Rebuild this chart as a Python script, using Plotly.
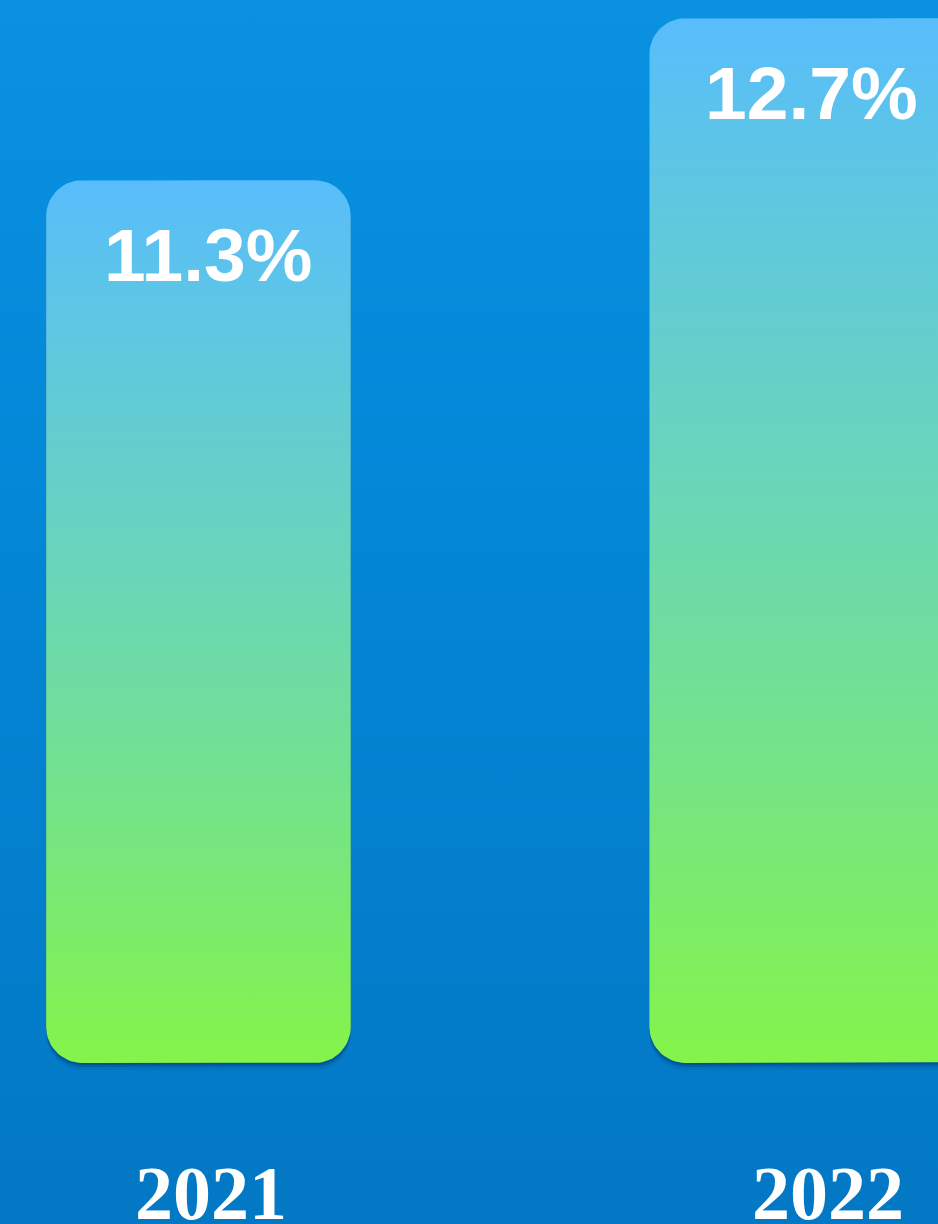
import numpy as np
import plotly.graph_objects as go

# ---- data ----
years = ["2021", "2022"]
values = [11.3, 12.7]
labels = ["11.3%", "12.7%"]

# ---- layout constants ----
W, H = 938, 1224
BASE = 3.67            # axis value where the bars start
X_RANGE = [-0.329, 1.226]
Y_RANGE = [2.278, 12.858]
BAR_W = 0.505
BAR_RIGHT_EXTRA = [0.0, 0.06]   # second bar runs past the right edge of the frame
R_PX = 36              # corner radius in pixels

px_per_x = W / (X_RANGE[1] - X_RANGE[0])
px_per_y = H / (Y_RANGE[1] - Y_RANGE[0])
rx = R_PX / px_per_x
ry = R_PX / px_per_y


def rounded_rect(x0, x1, y0, y1, n=16):
    xs, ys = [], []
    corners = [
        (x1 - rx, y1 - ry, 0, 90),     # top-right
        (x0 + rx, y1 - ry, 90, 180),   # top-left
        (x0 + rx, y0 + ry, 180, 270),  # bottom-left
        (x1 - rx, y0 + ry, 270, 360),  # bottom-right
    ]
    for cx, cy, a0, a1 in corners:
        t = np.radians(np.linspace(a0, a1, n))
        xs.extend(cx + rx * np.cos(t))
        ys.extend(cy + ry * np.sin(t))
    xs.append(xs[0])
    ys.append(ys[0])
    return xs, ys


fig = go.Figure()

# background gradient
fig.add_trace(go.Scatter(
    x=[-2, 3, 3, -2, -2], y=[0, 0, 20, 20, 0],
    mode="lines", line=dict(width=0), fill="toself",
    fillgradient=dict(type="vertical", start=Y_RANGE[0], stop=Y_RANGE[1],
                      colorscale=[[0, "#0378c4"], [0.55, "#0386d6"], [1, "#0a91e2"]]),
    hoverinfo="skip", showlegend=False,
))

for i, (yr, v) in enumerate(zip(years, values)):
    x0, x1 = i - BAR_W / 2, i + BAR_W / 2 + BAR_RIGHT_EXTRA[i]
    # soft shadow
    for off, op in [(7, 0.10), (4, 0.18), (2, 0.25)]:
        dy = off / px_per_y
        sx, sy = rounded_rect(x0, x1, BASE - dy, v - dy)
        fig.add_trace(go.Scatter(
            x=sx, y=sy, mode="lines", line=dict(width=0), fill="toself",
            fillcolor=f"rgba(0,40,90,{op})", hoverinfo="skip", showlegend=False,
        ))
    bx, by = rounded_rect(x0, x1, BASE, v)
    fig.add_trace(go.Scatter(
        x=bx, y=by, mode="lines", line=dict(width=0), fill="toself",
        fillgradient=dict(type="vertical", start=BASE, stop=v,
                          colorscale=[[0, "#84f44a"], [0.3, "#74e38a"],
                                      [0.55, "#6ad6b8"], [0.85, "#5ec6e4"],
                                      [1, "#58bdfb"]]),
        hoverinfo="skip", showlegend=False, name=yr,
    ))

annotations = []
for i, (yr, v, lab) in enumerate(zip(years, values, labels)):
    annotations.append(dict(
        x=i, y=v, xref="x", yref="y", text=lab, showarrow=False,
        xshift=10, yshift=-75, yanchor="middle", xanchor="center",
        font=dict(family="Liberation Sans", size=75, color="white", weight="bold"),
    ))
    annotations.append(dict(
        x=i, y=BASE, xref="x", yref="y", text=yr, showarrow=False,
        xshift=[13, 26][i], yshift=-130, yanchor="middle", xanchor="center",
        font=dict(family="Liberation Serif", size=76, color="white", weight="bold"),
    ))

fig.update_layout(
    width=W, height=H,
    margin=dict(l=0, r=0, t=0, b=0),
    paper_bgcolor="#0582d0", plot_bgcolor="#0582d0",
    xaxis=dict(range=X_RANGE, visible=False, fixedrange=True),
    yaxis=dict(range=Y_RANGE, visible=False, fixedrange=True),
    annotations=annotations,
    showlegend=False,
)

fig.write_html(
    "out.html",
    config={"displayModeBar": False},
    post_script="document.body.style.margin='0';document.body.style.overflow='hidden';",
)
